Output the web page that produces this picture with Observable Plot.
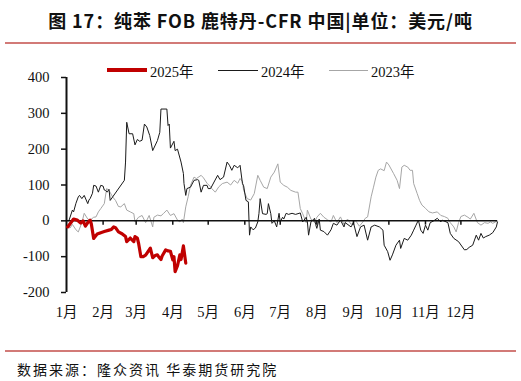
<!DOCTYPE html>
<html>
<head>
<meta charset="utf-8">
<script src="https://cdn.jsdelivr.net/npm/d3@7"></script>
<script src="https://cdn.jsdelivr.net/npm/@observablehq/plot@0.6"></script>
<style>
  body { margin: 0; background: #fff; width: 521px; height: 381px; position: relative; overflow: hidden; }
  .title { position: absolute; left: 0; top: 7px; width: 521px; text-align: center; font-family: "Noto Sans CJK SC", sans-serif; font-weight: bold; font-size: 18px; letter-spacing: 0.9px; color: #111; white-space: nowrap; }
  .rule { position: absolute; left: 5px; width: 511px; height: 2px; background: #d27a77; }
  .legend { position: absolute; top: 60px; left: 0; font-family: "Liberation Serif", "Noto Sans CJK SC", serif; font-size: 14.5px; color: #111; }
  .item { position: absolute; top: 0; white-space: nowrap; }
  .sw { position: absolute; }
  .source { position: absolute; left: 17px; top: 359px; font-family: "Noto Sans CJK SC", sans-serif; font-size: 14px; letter-spacing: 2px; color: #111; white-space: nowrap; }
  #chart { position: absolute; left: 0; top: 60px; }
</style>
</head>
<body>
<div class="title">图 17：纯苯 FOB 鹿特丹-CFR 中国|单位：美元/吨</div>
<div class="rule" style="top:42px"></div>
<div id="chart"></div>
<div class="legend" id="legend"></div>
<div class="rule" style="top:350px"></div>
<div class="source">数据来源：隆众资讯 华泰期货研究院</div>
<script>
// ---- data: day of year (0 = 1月1日) and spread value (美元/吨) ----
const seriesNames = ["2025年", "2024年", "2023年"];
const monthLabels = ["1月","2月","3月","4月","5月","6月","7月","8月","9月","10月","11月","12月"];
const monthStarts = [0,31,59,90,120,151,181,212,243,273,304,334];
const yTicks = [-200,-100,0,100,200,300,400];

const days2025 = [1,6,9,12,14,16,18,20,21,23,26,29,32,36,38,40,41.5,44,47,50,51,54,57,58,60,61,63,65,67,70,71,73,75,77,78,80,81,84,86,88,90,91,92,94,96,97,99,101];
const vals2025 = [-17,5,2,-6,0,-15,-5,2,-8,-49,-37,-33,-30,-26,-24,-17,-19,-31,-36,-44,-58,-48,-58,-44,-48,-62,-100,-100,-96,-81,-76,-103,-97,-95,-100,-108,-98,-81,-84,-85,-109,-100,-142,-125,-95,-108,-70,-118];

const days2024 = [2,5,6,8,10,11,13,15,18,19,20,22,23,25,27,29,31,32,33,34.5,36,37,49,50,51,53,56,58,60,62,64,66,68,70.5,73,77,79,80,85,86,87,88,91,92,94,97,99,99.5,101,102,105,108,111,112,114,116,119,120,122,128,130,133,136,138,140,142,145,147,149,150,152,154,155,156,158,160,162,163,164,166,169,170,171,173,174,176,178,180,181,183,184,186,188,191,194,198,200,203,204,205,207,210,211,212,214,215,218,221,224,226,229,232,235,236,241,243,246,249,252,255,258,261,265,268,269,272,274,276,279,282,283,286,289,292,294,296,298,300,302,304,306,308,311,314,317,318,323,325,328,332,337,339,341,344,347,349,351,353,355,358,361,364,365];
const vals2024 = [0,30,25,49,67,71,62,71,48,58,62,77,99,97,80,99,97,86,85,80,88,57,113,164,275,243,243,212,227,222,225,270,262,238,196,224,247,312,312,266,270,203,222,196,200,164,132,104,71,90,94,113,115,113,80,99,99,90,90,127,115,122,164,155,141,155,148,155,104,98,57,53,-40,-17,-25,-20,-3,21,62,20,18,20,48,20,-7,0,-17,21,-3,10,5,21,18,21,18,22,-3,10,-3,-40,-3,7,-10,-21,5,-26,-30,-40,-25,-7,-12,2,-17,-5,-17,-5,-44,-17,-12,-54,-17,-12,-17,-26,-68,-86,-110,-95,-68,-54,-77,-49,-54,-40,-26,-12,2,-26,-35,-12,-26,-5,0,7,-3,2,-5,-35,-49,-58,-81,-80,-74,-68,-40,-54,-35,-48,-44,-40,-33,-17,-3];

const days2023 = [0,3,5,8,10,13,15,18,20,23,25,27,29,32,34,36,39,41.5,44,46,49,51,54,57,58,61,64,67,70,73,74,77,80,82,85,88,91,94,96,98,99,101,103,105,108,110,114,116,119,122,123,126,129,132,136,139,142,145,147,149,150,153,156,159,162,164,167,170,173,176,179,181,184,187,190,194,196,198,200,203,204,207,210,212,215,218,221,224,226,229,232,235,238,241,245,248,251,253,255,258,260,262,264,266,269,271,273,277,280,282,284,286,289,291,293,294,297,299,301,304,307,310,314,317,320,323,325,328,330,332,334,337,340,342,345,348,351,354,357,359,361,365];
const vals2023 = [-15,-20,-10,-25,-31,-5,21,5,2,10,11,25,34,48,90,85,67,57,40,39,48,30,25,20,-3,10,15,-5,15,-17,10,16,14,20,30,15,20,2,-3,5,-5,39,67,99,122,118,127,120,105,95,90,80,95,104,108,100,113,105,118,110,85,62,58,76,127,113,94,90,122,136,159,108,99,94,85,80,80,34,20,-5,30,5,-5,10,21,10,3,-3,15,-5,11,-10,5,-10,0,-15,-3,7,11,67,94,122,141,145,140,164,156,132,113,90,150,155,150,141,141,104,76,57,44,35,25,22,25,15,12,7,-5,-17,-31,-5,12,16,10,5,21,-5,-12,-5,-7,-3,-7,0];

const colors = ["#c00000", "#1a1a1a", "#a6a6a6"];
const widths = [3.2, 1, 1];

const mk = (days, vals, s) => days.map((d, i) => ({day: d, value: vals[i], series: s}));
const d2025 = mk(days2025, vals2025, seriesNames[0]);
const d2024 = mk(days2024, vals2024, seriesNames[1]);
const d2023 = mk(days2023, vals2023, seriesNames[2]);

const chart = Plot.plot({
  width: 521,
  height: 265,
  marginLeft: 66,
  marginRight: 24,
  marginTop: 17,
  marginBottom: 33,
  style: {fontFamily: '"Liberation Serif", "Noto Sans CJK SC", serif', fontSize: "14.5px", color: "#111", background: "transparent"},
  x: {domain: [0, 365], axis: null},
  y: {domain: [-200, 400], axis: null},
  marks: [
    Plot.axisY({ticks: yTicks, tickSize: 5, tickPadding: 12, tickFormat: d => String(d), label: null, stroke: "#111", strokeWidth: 1.5}),
    Plot.axisX({ticks: monthStarts, tickSize: 0, tickPadding: 14, tickFormat: (d) => monthLabels[monthStarts.indexOf(d)], label: null, anchor: "bottom"}),
    Plot.line(d2023, {x: "day", y: "value", stroke: colors[2], strokeWidth: widths[2], curve: "linear"}),
    Plot.line(d2024, {x: "day", y: "value", stroke: colors[1], strokeWidth: widths[1], curve: "linear"}),
    Plot.ruleY([0], {stroke: "#111", strokeWidth: 1.5}),
    Plot.ruleX(monthStarts.slice(1), {x: d => d, y1: 0, y2: -12, stroke: "#111", strokeWidth: 1.5}),
    Plot.ruleX([0], {y1: -200, y2: 400, stroke: "#111", strokeWidth: 2}),
    Plot.line(d2025, {x: "day", y: "value", stroke: colors[0], strokeWidth: widths[0], strokeLinejoin: "round"})
  ]
});
document.getElementById("chart").appendChild(chart);

// legend
const legend = document.getElementById("legend");
const pos = [{sw: 107, swEnd: 147, tx: 150}, {sw: 218, swEnd: 258, tx: 261}, {sw: 329, swEnd: 368, tx: 371}];
seriesNames.forEach((name, i) => {
  const sw = document.createElement("div");
  sw.className = "sw";
  sw.style.left = pos[i].sw + "px";
  sw.style.width = (pos[i].swEnd - pos[i].sw) + "px";
  sw.style.top = (10 - widths[i] / 2) + "px";
  sw.style.height = widths[i] + "px";
  sw.style.background = colors[i];
  legend.appendChild(sw);
  const t = document.createElement("div");
  t.className = "item";
  t.style.left = pos[i].tx + "px";
  t.textContent = name;
  legend.appendChild(t);
});
</script>
</body>
</html>
